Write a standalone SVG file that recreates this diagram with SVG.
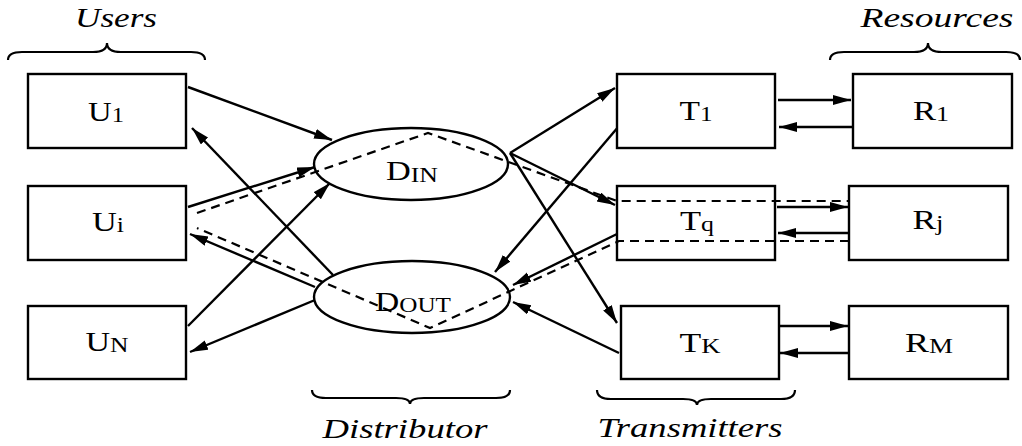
<svg xmlns="http://www.w3.org/2000/svg" width="1022" height="446" viewBox="0 0 1022 446">
<defs>
<style>
.box{fill:#fff;stroke:#000;stroke-width:2.4}
.ell{fill:#fff;stroke:#000;stroke-width:2.4}
.lbl{font-family:'Liberation Serif','DejaVu Serif',serif;font-size:28px;fill:#000;text-anchor:middle}
.sub{font-size:21px}
.cap{font-family:'Liberation Serif','DejaVu Serif',serif;font-style:italic;font-size:28px;fill:#000;text-anchor:middle}
.ln{fill:none;stroke:#000;stroke-width:2.4}
.dash{fill:none;stroke:#000;stroke-width:2.2;stroke-dasharray:9 6}
.brace{fill:none;stroke:#000;stroke-width:2.2}
</style>
<marker id="ah" markerUnits="userSpaceOnUse" markerWidth="20" markerHeight="12" refX="18" refY="5" orient="auto">
<path d="M0,0 L18,5 L0,10 z" fill="#000"/>
</marker>
</defs>
<rect width="1022" height="446" fill="#fff"/>

<g id="captions">
<text class="cap" x="116" y="27" textLength="82" lengthAdjust="spacingAndGlyphs">Users</text>
<text class="cap" x="937" y="27" textLength="153" lengthAdjust="spacingAndGlyphs">Resources</text>
<text class="cap" x="405" y="438" textLength="165" lengthAdjust="spacingAndGlyphs">Distributor</text>
<text class="cap" x="690" y="437" textLength="185" lengthAdjust="spacingAndGlyphs">Transmitters</text>
<path class="brace" d="M8,60 Q8,52 22,52 L93,52 Q107,52 107,43 Q107,52 121,52 L191,52 Q205,52 205,60"/>
<path class="brace" d="M830,60 Q830,52 844,52 L914,52 Q928,52 928,43 Q928,52 942,52 L1006,52 Q1020,52 1020,60"/>
<path class="brace" d="M312,390 Q312,398 326,398 L396,398 Q410,398 410,404 Q410,398 424,398 L496,398 Q510,398 510,390"/>
<path class="brace" d="M597,390 Q597,399 611,399 L683,399 Q697,399 697,405 Q697,399 711,399 L781,399 Q795,399 795,390"/>
</g>

<g id="connectors">
<path class="ln" marker-end="url(#ah)" d="M188,87 L332,140"/>
<path class="ln" marker-end="url(#ah)" d="M333,275 L192,128"/>
<path class="ln" marker-end="url(#ah)" d="M188,207 L315,167"/>
<path class="ln" marker-end="url(#ah)" d="M315,287 L190,234"/>
<path class="ln" marker-end="url(#ah)" d="M188,326 L330,183"/>
<path class="ln" marker-end="url(#ah)" d="M315,300 L190,352"/>
<path class="ln" marker-end="url(#ah)" d="M510,153 L615,88"/>
<path class="ln" marker-end="url(#ah)" d="M510,153 L615,205"/>
<path class="ln" marker-end="url(#ah)" d="M510,153 L617,323"/>
<path class="ln" marker-end="url(#ah)" d="M619,126 L495,272"/>
<path class="ln" marker-end="url(#ah)" d="M617,234 L513,285"/>
<path class="ln" marker-end="url(#ah)" d="M619,353 L513,302"/>
<path class="ln" marker-end="url(#ah)" d="M778,100 L851,100"/>
<path class="ln" marker-end="url(#ah)" d="M852,127 L779,127"/>
<path class="ln" marker-end="url(#ah)" d="M777,207 L848,207"/>
<path class="ln" marker-end="url(#ah)" d="M848,233 L778,233"/>
<path class="ln" marker-end="url(#ah)" d="M780,326 L848,326"/>
<path class="ln" marker-end="url(#ah)" d="M848,353 L780,353"/>
</g>

<g id="U1"><rect class="box" x="28" y="74" width="158" height="74"/><text class="lbl" x="106" y="121" textLength="36" lengthAdjust="spacingAndGlyphs">U<tspan class="sub" dy="1">1</tspan></text></g>
<g id="Ui"><rect class="box" x="28" y="186" width="158" height="74"/><text class="lbl" x="108" y="231" textLength="32" lengthAdjust="spacingAndGlyphs">U<tspan class="sub" dy="1">i</tspan></text></g>
<g id="UN"><rect class="box" x="28" y="306" width="158" height="73"/><text class="lbl" x="107" y="351" textLength="43" lengthAdjust="spacingAndGlyphs">U<tspan class="sub" dy="1">N</tspan></text></g>

<g id="DIN"><ellipse class="ell" cx="411" cy="164" rx="97" ry="36"/><text class="lbl" x="412" y="180" textLength="52" lengthAdjust="spacingAndGlyphs">D<tspan class="sub" dy="2">IN</tspan></text></g>
<g id="DOUT"><ellipse class="ell" cx="412" cy="297" rx="98" ry="36"/><text class="lbl" x="413" y="311" textLength="76" lengthAdjust="spacingAndGlyphs">D<tspan class="sub" dy="1">OUT</tspan></text></g>

<g id="T1"><rect class="box" x="617" y="74" width="158" height="74"/><text class="lbl" x="696" y="120" textLength="33" lengthAdjust="spacingAndGlyphs">T<tspan class="sub" dy="1">1</tspan></text></g>
<g id="Tq"><rect class="box" x="617" y="186" width="158" height="74"/><text class="lbl" x="697" y="230" textLength="34" lengthAdjust="spacingAndGlyphs">T<tspan class="sub" dy="1">q</tspan></text></g>
<g id="TK"><rect class="box" x="621" y="306" width="158" height="73"/><text class="lbl" x="700" y="352" textLength="41" lengthAdjust="spacingAndGlyphs">T<tspan class="sub" dy="1">K</tspan></text></g>

<g id="R1"><rect class="box" x="853" y="74" width="159" height="74"/><text class="lbl" x="931" y="120" textLength="36" lengthAdjust="spacingAndGlyphs">R<tspan class="sub" dy="1">1</tspan></text></g>
<g id="Rj"><rect class="box" x="849" y="186" width="159" height="74"/><text class="lbl" x="928" y="229" textLength="31" lengthAdjust="spacingAndGlyphs">R<tspan class="sub" dy="1">j</tspan></text></g>
<g id="RM"><rect class="box" x="849" y="306" width="159" height="73"/><text class="lbl" x="929" y="352" textLength="48" lengthAdjust="spacingAndGlyphs">R<tspan class="sub" dy="1">M</tspan></text></g>

<g id="flows">
<path class="dash" d="M197,213 L428,133 L617,201 L849,201"/>
<path class="dash" d="M849,241 L619,241 L430,328 L197,228"/>
</g>
</svg>
